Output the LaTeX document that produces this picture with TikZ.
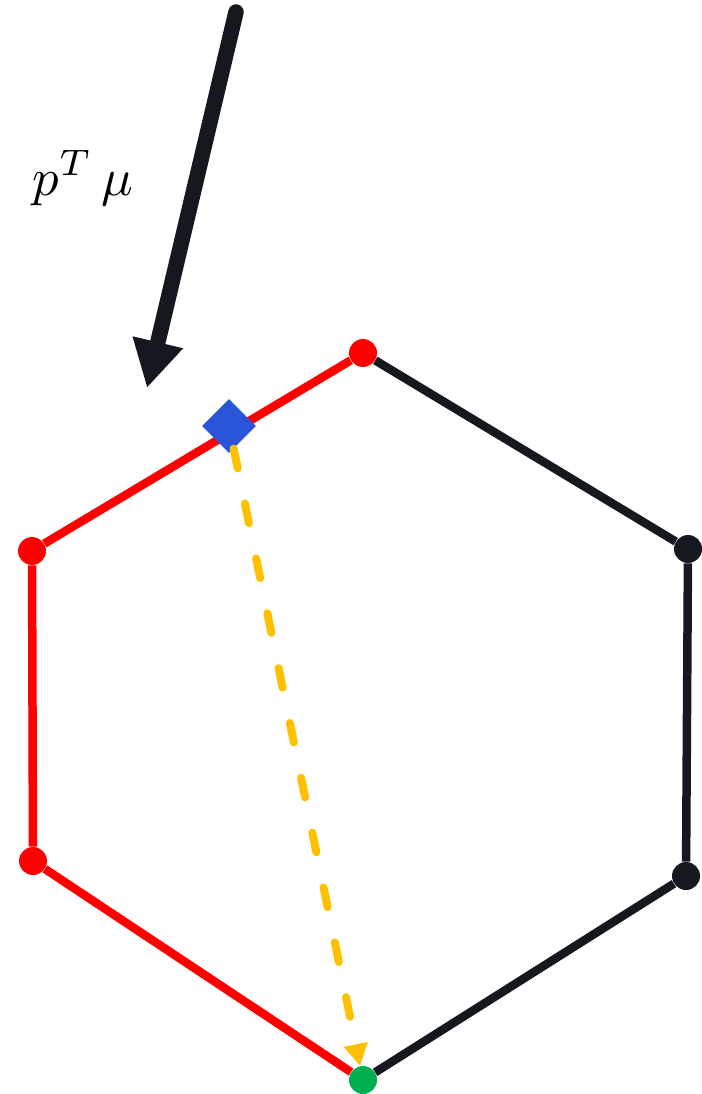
\documentclass[tikz,border=0pt]{standalone}
\usetikzlibrary{arrows.meta}
\definecolor{hexred}{RGB}{255,0,0}
\definecolor{hexdark}{RGB}{22,24,32}
\definecolor{hexblue}{RGB}{43,85,217}
\definecolor{hexgold}{RGB}{255,192,0}
\definecolor{hexgreen}{RGB}{0,176,80}
\tikzset{
  vertex/.style={circle, fill=#1, inner sep=0pt, minimum size=0.56cm},
  side/.style={line width=0.17cm, draw=#1},
  point/.style={rectangle, fill=hexblue, inner sep=0pt, minimum size=0.76cm, rotate=45},
  descent/.style={line width=0.16cm, draw=hexgold, dash pattern=on 0.4cm off 0.72cm,
    line cap=round, -{Triangle[length=0.44cm, width=0.46cm]}},
  push/.style={line width=0.31cm, draw=hexdark, line cap=round,
    -{Triangle[length=0.94cm, width=0.97cm]}}
}
\begin{document}
\begin{tikzpicture}[x=0.02cm, y=-0.02cm]
  \useasboundingbox (0,0) rectangle (702,1094);
  % vertices of the hexagon
  \node[vertex=hexred]   (vt)  at (363,353)  {};
  \node[vertex=hexdark]  (vur) at (688,549)  {};
  \node[vertex=hexdark]  (vlr) at (686,876)  {};
  \node[vertex=hexgreen] (vb)  at (363,1080) {};
  \node[vertex=hexred]   (vll) at (33,861)   {};
  \node[vertex=hexred]   (vul) at (32,551)   {};
  % sides
  \draw[side=hexdark] (vt) -- (vur);
  \draw[side=hexdark] (vur) -- (vlr);
  \draw[side=hexdark] (vlr) -- (vb);
  \draw[side=hexred] (vt) -- (vul);
  \draw[side=hexred] (vul) -- (vll);
  \draw[side=hexred] (vll) -- (vb);
  % current point and step
  \node[point] (x0) at (229,426) {};
  \draw[descent] (x0) -- (vb);
  % direction
  \coordinate (ptop) at (236,12);
  \coordinate (ptip) at (147,388);
  \draw[push] (ptop) -- (ptip);
  \node[scale=3] (lbl) at (83,178) {$p^T\,\mu$};
\end{tikzpicture}
\end{document}
